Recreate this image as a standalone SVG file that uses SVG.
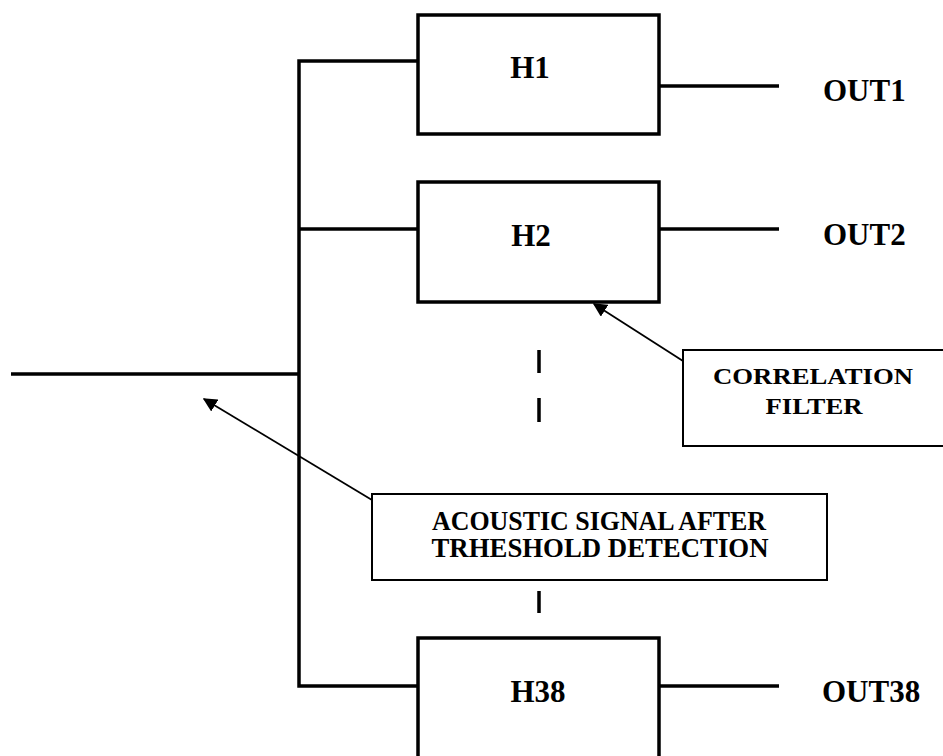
<svg xmlns="http://www.w3.org/2000/svg" width="943" height="756" viewBox="0 0 943 756">
<defs>
<style>
.box{fill:#fff;stroke:#000;stroke-width:3.5}
.call{fill:#fff;stroke:#000;stroke-width:2}
.wire{fill:none;stroke:#000;stroke-width:3.5}
.ptr{fill:none;stroke:#000;stroke-width:1.8}
.lbl{font-family:"Liberation Serif","Times New Roman",serif;font-weight:bold;fill:#000}
.big{font-size:31px}
.mid{font-size:27px}
.sm{font-size:24px}
</style>
<marker id="ah2" viewBox="0 0 10 10" refX="9" refY="5" markerWidth="14" markerHeight="14" markerUnits="userSpaceOnUse" orient="auto">
<path d="M0,0 L10,5 L0,10 z" fill="#000"/>
</marker>
</defs>
<rect width="943" height="756" fill="#fff"/>
<g id="connectors">
<path class="wire" d="M11,374 H299"/>
<path class="wire" d="M418,61 H299 V686 H418"/>
<path class="wire" d="M299,229 H418"/>
<path class="wire" d="M659,86 H779"/>
<path class="wire" d="M659,229 H779"/>
<path class="wire" d="M659,686 H779"/>
<path class="wire" d="M539,350 V373 M539,398 V422 M539,591 V613"/>
<line class="ptr" x1="683" y1="361" x2="594" y2="304" marker-end="url(#ah2)"/>
<line class="ptr" x1="372" y1="500" x2="204" y2="399" marker-end="url(#ah2)"/>
</g>
<g id="H1">
<rect class="box" x="418" y="15" width="241" height="119"/>
<text class="lbl big" x="530" y="78" text-anchor="middle">H1</text>
</g>
<g id="H2">
<rect class="box" x="418" y="182" width="241" height="120"/>
<text class="lbl big" x="531" y="246" text-anchor="middle">H2</text>
</g>
<g id="H38">
<rect class="box" x="418" y="638" width="241" height="130"/>
<text class="lbl big" x="538" y="702" text-anchor="middle">H38</text>
</g>
<g id="OUT1"><text class="lbl big" x="823" y="101">OUT1</text></g>
<g id="OUT2"><text class="lbl big" x="823" y="245">OUT2</text></g>
<g id="OUT38"><text class="lbl big" x="822" y="702">OUT38</text></g>
<g id="correlation">
<rect class="call" x="683" y="350" width="270" height="96"/>
<text class="lbl sm" x="813" y="384" text-anchor="middle" textLength="200" lengthAdjust="spacingAndGlyphs">CORRELATION</text>
<text class="lbl sm" x="814" y="414" text-anchor="middle" textLength="97" lengthAdjust="spacingAndGlyphs">FILTER</text>
</g>
<g id="acoustic">
<rect class="call" x="372" y="494" width="455" height="86"/>
<text class="lbl mid" x="599" y="530" text-anchor="middle" textLength="334" lengthAdjust="spacingAndGlyphs">ACOUSTIC SIGNAL AFTER</text>
<text class="lbl mid" x="600" y="557" text-anchor="middle" textLength="337" lengthAdjust="spacingAndGlyphs">TRHESHOLD DETECTION</text>
</g>
</svg>
